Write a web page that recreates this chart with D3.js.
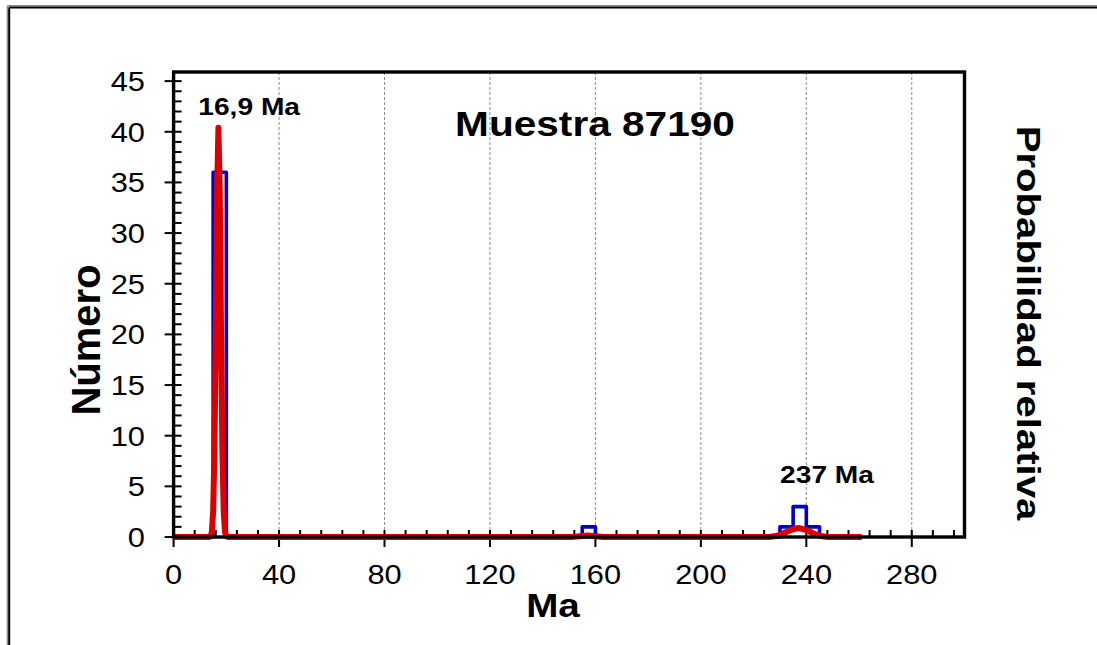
<!DOCTYPE html>
<html><head><meta charset="utf-8">
<script src="https://cdn.jsdelivr.net/npm/d3@7"></script>
<style>html,body{margin:0;padding:0;background:#fff;overflow:hidden}svg{display:block}</style>
</head><body>
<svg id="chart" width="1097" height="645"></svg>
<script>
// ---- data ----
const histBinStart = [15, 155, 230, 235, 240];
const histCount    = [36, 1, 1, 3, 1];
const histBinWidth = 5;
const histExtent   = [0, 260];

const pdfAge   = [0, 13.5, 14, 14.5, 15, 15.5, 16, 16.5, 17, 17.5, 18, 18.5, 19, 19.5, 20, 20.5,
                  151, 154, 157, 160, 163,
                  226, 229, 231, 233, 235, 237, 239, 241, 243, 245, 248, 261];
const pdfValue = [0, 0, 0.002, 0.012, 0.062, 0.21, 0.5, 0.84, 1, 0.84, 0.5, 0.21, 0.062, 0.012, 0.002, 0,
                  0, 0.002, 0.004, 0.002, 0,
                  0, 0.003, 0.008, 0.014, 0.019, 0.022, 0.019, 0.014, 0.008, 0.003, 0, 0];

const xTickValues = [0, 40, 80, 120, 160, 200, 240, 280];
const xMinorStep = 8;
const yTickValues = [0, 5, 10, 15, 20, 25, 30, 35, 40, 45];
const yMinorStep = 1;
const xDomain = [0, 300];
const yDomain = [0, 45.9];
const pdfDomain = [0, 1.136];

const title = "Muestra 87190";
const xTitle = "Ma";
const yTitle = "Número";
const y2Title = "Probabilidad  relativa";
const peakLabels = ["16,9 Ma", "237 Ma"];

// ---- layout ----
const svg = d3.select("#chart");
const L = 173.6, R = 964.5, T = 72, B = 537;
const FONT = "'Liberation Sans', Arial, Helvetica, sans-serif";

const x = d3.scaleLinear().domain(xDomain).range([L, R]);
const y = d3.scaleLinear().domain(yDomain).range([B, T]);
const y2 = d3.scaleLinear().domain(pdfDomain).range([B, T]);

// outer border
svg.append("line").attr("x1", 7.5).attr("x2", 1097).attr("y1", 5.8).attr("y2", 5.8).attr("stroke", "#8a8a8a").attr("stroke-width", 1.6);
svg.append("line").attr("x1", 7.5).attr("x2", 7.5).attr("y1", 5.8).attr("y2", 645).attr("stroke", "#8a8a8a").attr("stroke-width", 1.6);
svg.append("line").attr("x1", 9.2).attr("x2", 1097).attr("y1", 7.6).attr("y2", 7.6).attr("stroke", "#000").attr("stroke-width", 2);
svg.append("line").attr("x1", 9.2).attr("x2", 9.2).attr("y1", 7.6).attr("y2", 645).attr("stroke", "#000").attr("stroke-width", 2);

// gridlines
svg.append("g").selectAll("line").data(xTickValues.filter(d => d > 0)).join("line")
  .attr("x1", d => x(d)).attr("x2", d => x(d)).attr("y1", T).attr("y2", B)
  .attr("stroke", "#8c8c8c").attr("stroke-width", 1).attr("stroke-dasharray", "3,2");

// axes ticks
const xMinor = d3.range(xDomain[0], xDomain[1] + 0.001, xMinorStep).filter(v => !xTickValues.includes(v) && v > 0 && v < xDomain[1]);
const yMinor = d3.range(yDomain[0], 46, yMinorStep).filter(v => !yTickValues.includes(v) && v <= yDomain[1]);
const tg = svg.append("g").attr("stroke", "#000").attr("stroke-width", 2);
tg.selectAll(".xm").data(xMinor).join("line").attr("x1", d => x(d)).attr("x2", d => x(d)).attr("y1", B - 7).attr("y2", B);
tg.selectAll(".xM").data(xTickValues).join("line").attr("x1", d => x(d)).attr("x2", d => x(d)).attr("y1", B - 7).attr("y2", B + 10);
tg.selectAll(".ym").data(yMinor).join("line").attr("y1", d => y(d)).attr("y2", d => y(d)).attr("x1", L).attr("x2", L + 8);
tg.selectAll(".yM").data(yTickValues).join("line").attr("y1", d => y(d)).attr("y2", d => y(d)).attr("x1", L - 9).attr("x2", L + 8);

// histogram (step outline)
const countMap = new Map(histBinStart.map((b, i) => [b, histCount[i]]));
const bins = d3.range(histExtent[0], histExtent[1], histBinWidth).map(b => [b, countMap.get(b) || 0]);
bins.push([histExtent[1], 0]);
svg.append("path").datum(bins)
  .attr("d", d3.line().x(d => x(d[0])).y(d => y(d[1])).curve(d3.curveStepAfter))
  .attr("fill", "none").attr("stroke", "#0000cc").attr("stroke-width", 3.6).attr("stroke-linejoin", "round");

// probability curve
svg.append("path").datum(pdfAge.map((a, i) => [a, pdfValue[i]]))
  .attr("d", d3.line().x(d => x(d[0])).y(d => y2(d[1])))
  .attr("fill", "none").attr("stroke", "#dc0000").attr("stroke-width", 6).attr("stroke-linejoin", "round");

// frame
svg.append("rect").attr("x", L).attr("y", T).attr("width", R - L).attr("height", B - T)
  .attr("fill", "none").attr("stroke", "#000").attr("stroke-width", 3.4);

// text helper
function txt(str, px, py, o) {
  return svg.append("text").text(str)
    .attr("transform", `translate(${px},${py}) rotate(${o.rot || 0}) scale(${o.sx || 1},1)`)
    .attr("font-family", FONT).attr("font-size", o.size).attr("font-weight", o.bold ? "bold" : "normal")
    .attr("text-anchor", o.anchor || "middle").attr("fill", "#000");
}

// tick labels
xTickValues.forEach(v => txt(String(v), x(v), 584, {size: 28, sx: 1.1}));
yTickValues.forEach(v => txt(String(v), 145, y(v) + 10, {size: 28, sx: 1.1, anchor: "end"}));

// titles
txt(title, 595, 135.5, {size: 35, bold: true, sx: 1.16});
txt(xTitle, 553, 617, {size: 33, bold: true, sx: 1.17});
txt(yTitle, 100, 340, {size: 40, bold: true, sx: 1.0, rot: -90});
txt(y2Title, 1016.5, 323, {size: 34, bold: true, sx: 1.18, rot: 90});

// peak labels
txt(peakLabels[0], x(16.9) + 31, 115, {size: 24.7, bold: true, sx: 1.14});
txt(peakLabels[1], x(237) + 28.6, 483, {size: 24.7, bold: true, sx: 1.14});
</script>
</body></html>
